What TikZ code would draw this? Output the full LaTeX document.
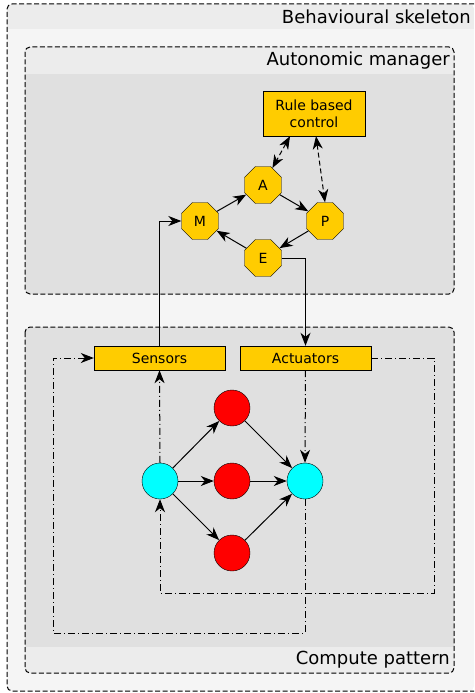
\documentclass[tikz,border=0pt]{standalone}
\usepackage{fontspec}
\setmainfont{DejaVu Sans}
\usetikzlibrary{arrows.meta,shapes.geometric}
\definecolor{skelbody}{HTML}{F5F5F5}
\definecolor{bandgrey}{HTML}{ECECEC}
\definecolor{innerbody}{HTML}{E0E0E0}
\definecolor{mgmt}{HTML}{FFCC00}
\definecolor{aqua}{HTML}{00FFFF}
\tikzset{
  boxline/.style={draw, dash pattern=on 5pt off 2.5pt, line width=1pt},
  octa/.style={draw, fill=mgmt, regular polygon, regular polygon sides=8, minimum size=40pt, inner sep=0pt, font=\fontsize{14}{16}\selectfont},
  portbox/.style={draw, fill=mgmt, minimum width=131pt, minimum height=24pt, inner sep=0pt, font=\fontsize{14}{16}\selectfont},
  worker/.style={draw, circle, fill=red, minimum size=36pt, inner sep=0pt},
  endpoint/.style={draw, circle, fill=aqua, minimum size=36pt, inner sep=0pt},
  title/.style={anchor=east, inner sep=0pt, font=\fontsize{18}{21}\selectfont},
  flow/.style={-{Stealth[length=13pt,width=10pt,inset=4pt]}, line width=1pt},
  feed/.style={flow, dash pattern=on 7pt off 3pt on 1pt off 3pt},
  ruleflow/.style={{Stealth[length=13pt,width=10pt,inset=4pt]}-{Stealth[length=13pt,width=10pt,inset=4pt]}, line width=1pt, dash pattern=on 5pt off 3pt},
}
\begin{document}
\begin{tikzpicture}[x=1pt,y=-1pt]
\useasboundingbox (0,0) rectangle (474,693);
% behavioural skeleton
\fill[skelbody, rounded corners=5pt] (474,4) -- (7,4) -- (7,691) -- (474,691) -- cycle;
\begin{scope}
\clip[rounded corners=5pt] (474,4) -- (7,4) -- (7,691) -- (474,691) -- cycle;
\fill[bandgrey] (7,4) rectangle (474,29);
\end{scope}
\draw[boxline, rounded corners=5pt] (474,4) -- (7,4) -- (7,691) -- (474,691);
\node[title] (skeltitle) at (471,17) {Behavioural skeleton};
% autonomic manager
\fill[innerbody, rounded corners=5pt] (25,47) rectangle (454,294);
\begin{scope}
\clip[rounded corners=5pt] (25,47) rectangle (454,294);
\fill[bandgrey] (25,47) rectangle (454,74);
\end{scope}
\draw[boxline, rounded corners=5pt] (25,47) rectangle (454,294);
\node[title] (amtitle) at (450,61) {Autonomic manager};
% compute pattern
\fill[innerbody, rounded corners=5pt] (25,327) rectangle (454,673);
\begin{scope}
\clip[rounded corners=5pt] (25,327) rectangle (454,673);
\fill[bandgrey] (25,647) rectangle (454,673);
\end{scope}
\draw[boxline, rounded corners=5pt] (25,327) rectangle (454,673);
\node[title] (cptitle) at (450,660) {Compute pattern};
% manager nodes
\node[draw, fill=mgmt, align=center, minimum width=102pt, minimum height=45pt, inner sep=0pt, font=\fontsize{14}{17}\selectfont] (rule) at (314,113.5) {Rule based\\control};
\node[octa] (A) at (263,185) {A};
\node[octa] (M) at (200,221) {M};
\node[octa] (P) at (325,221) {P};
\node[octa] (E) at (263,258) {E};
% compute nodes
\node[portbox] (sensors) at (159.5,358) {Sensors};
\node[portbox] (actuators) at (305.5,358) {Actuators};
\node[endpoint] (src) at (160,481) {};
\node[worker] (w1) at (232,408) {};
\node[worker] (w2) at (232,481) {};
\node[worker] (w3) at (232,553) {};
\node[endpoint] (snk) at (305,481) {};
\coordinate (lowL) at (53,633);
\coordinate (lowR) at (434,593);
% MAPE loop
\draw[flow] (M) -- (A);
\draw[flow] (A) -- (P);
\draw[flow] (P) -- (E);
\draw[flow] (E) -- (M);
\draw[ruleflow] ([xshift=-24pt]rule.south) -- (A);
\draw[ruleflow] ([xshift=2pt]rule.south) -- (P.north);
\draw[flow] (sensors.north) |- (M.west);
\draw[flow] (E.east) -| (actuators.north);
% compute graph
\foreach \w in {w1,w2,w3} {
  \draw[flow] (src) -- (\w);
  \draw[flow] (\w) -- (snk);
}
\draw[feed] (src.north) -- (sensors.south);
\draw[feed] (actuators.south) -- (snk.north);
\draw[feed] (snk.south) |- (lowL) |- (sensors.west);
\draw[feed] (actuators.east) -| (lowR) -| (src.south);
\end{tikzpicture}
\end{document}
